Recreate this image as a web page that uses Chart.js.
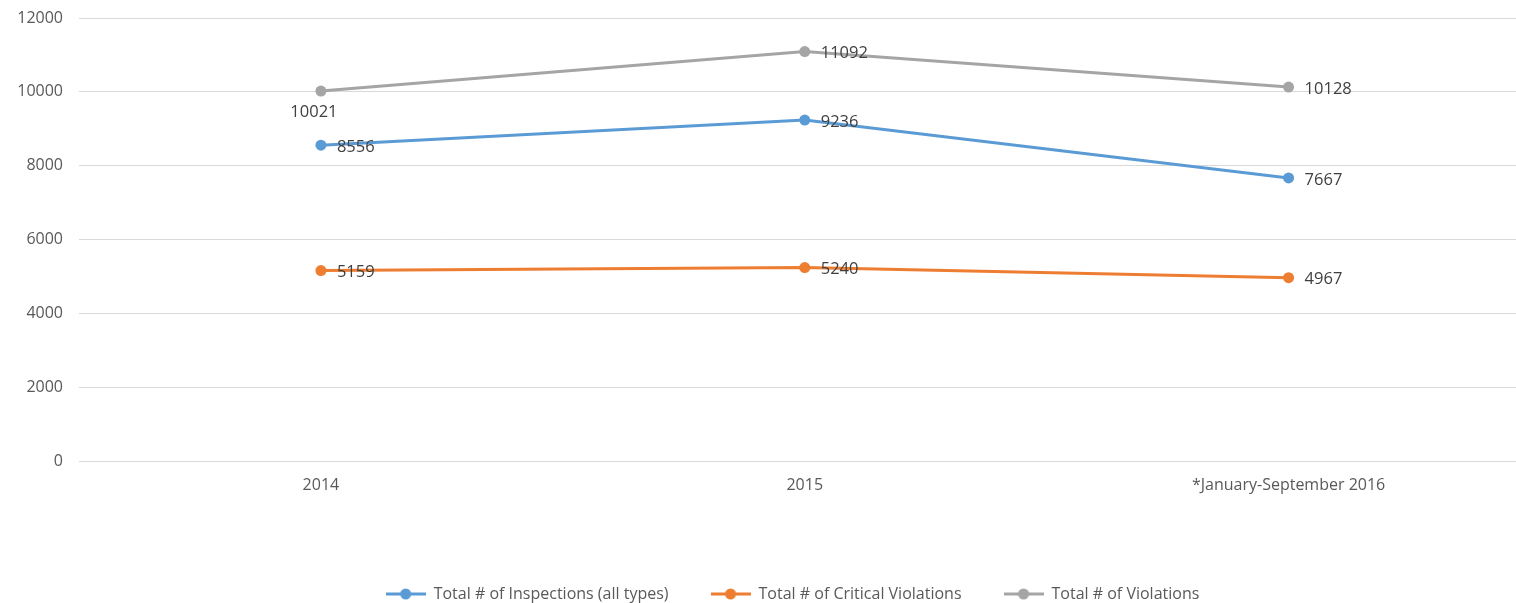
<!DOCTYPE html>
<html><head><meta charset="utf-8">
<script src="https://cdn.jsdelivr.net/npm/chart.js@4"></script>
<style>
html,body{margin:0;padding:0;background:#fff;overflow:hidden;width:1516px;height:603px;}
#wrap{position:relative;width:1536px;height:603px;}
canvas{display:block;}
</style></head>
<body><div id="wrap"><canvas id="c" width="1536" height="603"></canvas></div>
<script>
const categories = ['2014', '2015', '*January-September 2016'];
const inspections = [8556, 9236, 7667];
const criticalViolations = [5159, 5240, 4967];
const totalViolations = [10021, 11092, 10128];
const yTicks = [0, 2000, 4000, 6000, 8000, 10000, 12000];
const seriesNames = ['Total # of Inspections (all types)', 'Total # of Critical Violations', 'Total # of Violations'];
const colors = ['#5B9BD5', '#ED7D31', '#A5A5A5'];
const FONT = '"Open Sans", Lato, sans-serif';

function legendIcon(color){
  const c = document.createElement('canvas');
  c.width = 40; c.height = 12;
  const g = c.getContext('2d');
  g.strokeStyle = color; g.lineWidth = 3;
  g.beginPath(); g.moveTo(0,6); g.lineTo(40,6); g.stroke();
  g.fillStyle = color; g.beginPath(); g.arc(20,6,5.5,0,Math.PI*2); g.fill();
  return c;
}

const labelPlugin = {
  id: 'valueLabels',
  afterLayout(chart){
    if (chart.legend) { chart.legend.left += 25; chart.legend.right += 25; }
  },
  afterDatasetsDraw(chart){
    const ctx = chart.ctx;
    ctx.save();
    ctx.font = '16.5px ' + FONT;
    ctx.fillStyle = '#404040';
    chart.data.datasets.forEach((ds, di) => {
      const meta = chart.getDatasetMeta(di);
      meta.data.forEach((pt, i) => {
        const below = (di === 2 && i === 0);
        if (below) {
          ctx.textAlign = 'center'; ctx.textBaseline = 'middle';
          ctx.fillText(String(ds.data[i]), pt.x - 7, pt.y + 21);
        } else {
          ctx.textAlign = 'left'; ctx.textBaseline = 'middle';
          ctx.fillText(String(ds.data[i]), pt.x + 16, pt.y + 2);
        }
      });
    });
    ctx.restore();
  }
};

const mk = (label, data, color) => ({
  label, data, borderColor: color, backgroundColor: color,
  borderWidth: 3, pointRadius: 5.5, pointHoverRadius: 5.5,
  pointBackgroundColor: color, pointBorderWidth: 0, tension: 0,
  pointStyle: 'circle'
});

new Chart(document.getElementById('c'), {
  type: 'line',
  data: {
    labels: categories,
    datasets: [
      mk(seriesNames[0], inspections, colors[0]),
      mk(seriesNames[1], criticalViolations, colors[1]),
      mk(seriesNames[2], totalViolations, colors[2])
    ]
  },
  options: {
    responsive: false,
    animation: false,
    devicePixelRatio: 1,
    layout: { padding: { top: 18, left: 0, right: 1, bottom: -9 } },
    plugins: {
      tooltip: { enabled: false },
      legend: {
        position: 'bottom',
        labels: {
          usePointStyle: true,
          pointStyleWidth: 40,
          color: '#595959',
          font: { family: FONT, size: 16 },
          padding: 42,
          generateLabels(chart){
            return chart.data.datasets.map((ds, i) => ({
              text: ds.label, fillStyle: ds.borderColor, strokeStyle: ds.borderColor,
              lineWidth: 0, pointStyle: legendIcon(ds.borderColor), datasetIndex: i, hidden: false,
              fontColor: '#595959'
            }));
          }
        }
      }
    },
    scales: {
      x: {
        offset: true,
        grid: { display: false },
        border: { display: false },
        ticks: { color: '#595959', font: { family: FONT, size: 16 }, padding: 7, maxRotation: 0 },
        afterFit(s){ s.height = 83; }
      },
      y: {
        min: 0, max: 12000,
        afterBuildTicks(s){ s.ticks = yTicks.map(v => ({ value: v })); },
        grid: { color: '#D9D9D9', lineWidth: 1, drawTicks: false },
        border: { display: false },
        ticks: { color: '#595959', font: { family: FONT, size: 16 }, padding: 16, callback: v => String(v) },
        afterFit(s){ s.width = 79; s.paddingTop = 0; s.paddingBottom = 0; }
      }
    }
  },
  plugins: [labelPlugin]
});
</script>
</body></html>
